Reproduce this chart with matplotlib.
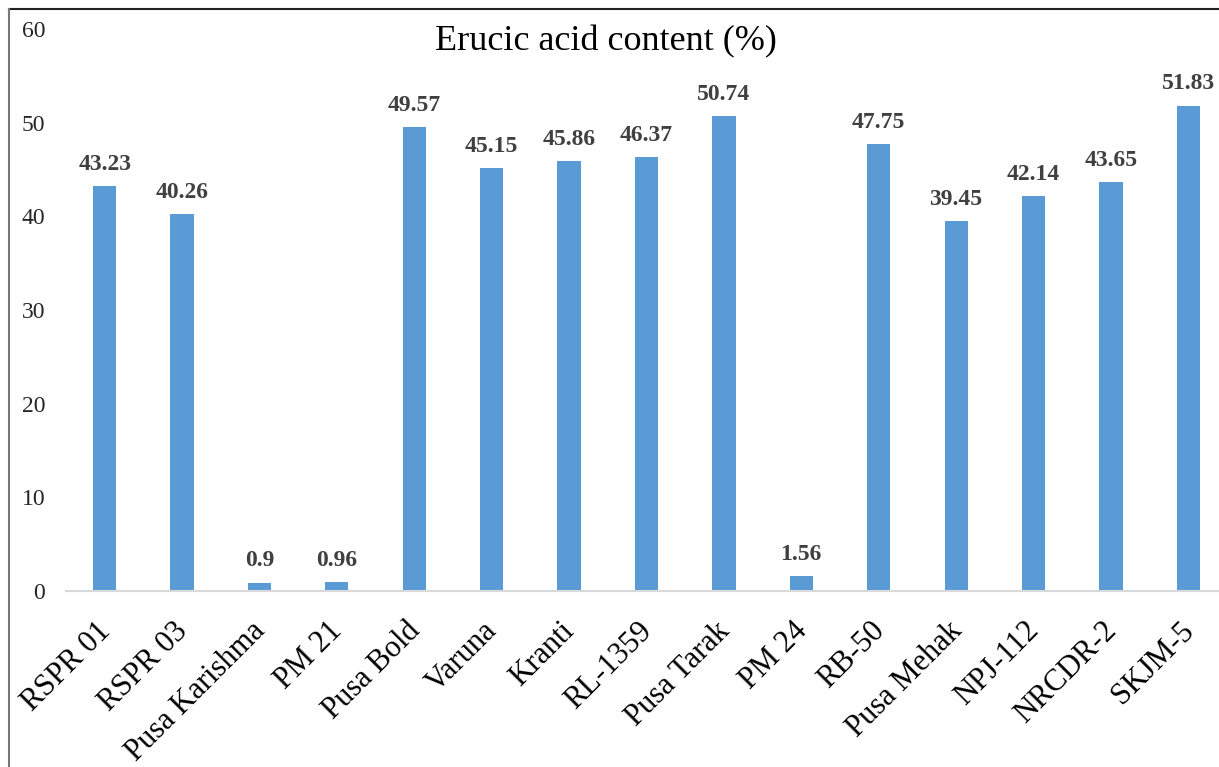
import matplotlib.pyplot as plt
from matplotlib.lines import Line2D
from matplotlib.transforms import ScaledTranslation

varieties = ["RSPR 01", "RSPR 03", "Pusa Karishma", "PM 21", "Pusa Bold", "Varuna",
             "Kranti", "RL-1359", "Pusa Tarak", "PM 24", "RB-50", "Pusa Mehak",
             "NPJ-112", "NRCDR-2", "SKJM-5"]
erucic = [43.23, 40.26, 0.9, 0.96, 49.57, 45.15, 45.86, 46.37, 50.74, 1.56,
          47.75, 39.45, 42.14, 43.65, 51.83]
value_labels = ["43.23", "40.26", "0.9", "0.96", "49.57", "45.15", "45.86", "46.37",
                "50.74", "1.56", "47.75", "39.45", "42.14", "43.65", "51.83"]
yticks = [0, 10, 20, 30, 40, 50, 60]

plt.rcParams["font.family"] = ["Liberation Serif", "DejaVu Serif"]

fig = plt.figure(figsize=(12.19, 7.67), dpi=100)
ax = fig.add_axes([0.0541, 0.2295, 0.9525, 0.7327])

x = list(range(len(varieties)))
bars = ax.bar(x, erucic, width=0.3, color="#5B9BD5", zorder=2)

for rect, lab in zip(bars, value_labels):
    ax.annotate(lab, (rect.get_x() + rect.get_width() / 2, rect.get_height()),
                xytext=(0, 8), textcoords="offset points", ha="center", va="bottom",
                fontsize=17, fontweight="bold", color="#404040")

ax.set_xlim(-0.5, len(varieties) - 0.5)
ax.set_ylim(0, 60)
ax.set_yticks(yticks)
ax.set_yticklabels([str(t) for t in yticks], fontsize=17, color="#262626")
ax.set_xticks(x)
ax.set_xticklabels(varieties, rotation=45, ha="right", rotation_mode="anchor",
                   fontsize=22, color="black")
ax.tick_params(axis="both", length=0)
ax.tick_params(axis="y", pad=15)
ax.tick_params(axis="x", pad=6)
shift = ScaledTranslation(-9 / 100, -17 / 100, fig.dpi_scale_trans)
for lbl in ax.get_xticklabels():
    lbl.set_transform(lbl.get_transform() + shift)
for side in ["top", "right", "left"]:
    ax.spines[side].set_visible(False)
ax.spines["bottom"].set_color("#D9D9D9")
ax.spines["bottom"].set_linewidth(1.5)

fig.text(0.497, 0.946, "Erucic acid content (%)", ha="center", va="center",
         fontsize=26, color="black")

# outer frame edges visible in the reference (top and left)
fig.add_artist(Line2D([9 / 1219, 1], [1 - 9 / 767, 1 - 9 / 767],
                      transform=fig.transFigure, color="#222222", linewidth=1.5))
fig.add_artist(Line2D([9 / 1219, 9 / 1219], [0, 1 - 9 / 767],
                      transform=fig.transFigure, color="#777777", linewidth=1.5))

fig.savefig("out.png", dpi=100)
plt.close(fig)
